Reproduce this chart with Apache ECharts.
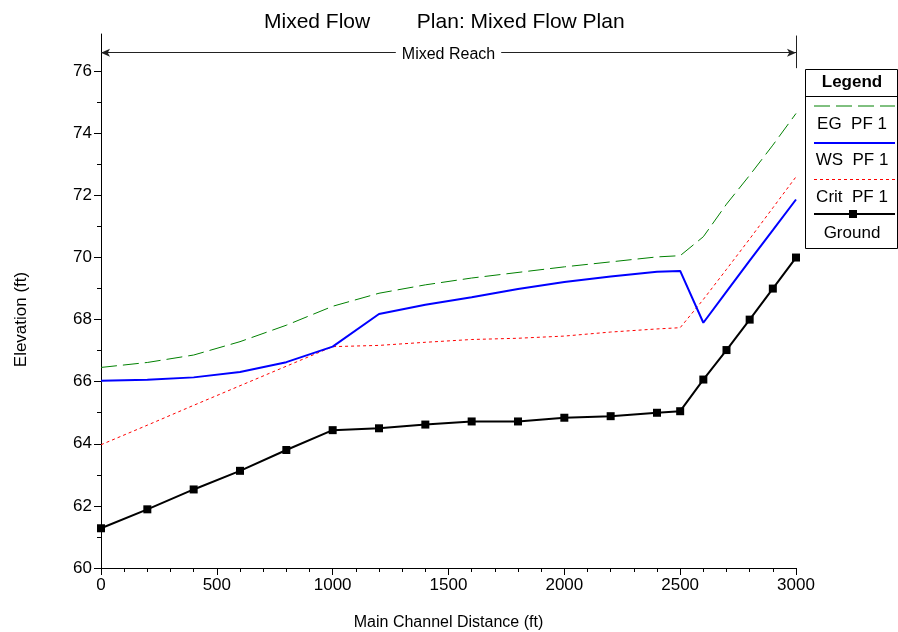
<!DOCTYPE html>
<html><head><meta charset="utf-8">
<script src="https://cdn.jsdelivr.net/npm/echarts@6/dist/echarts.min.js"></script>
<style>html,body{margin:0;padding:0;background:#fff}#c{width:898px;height:632px}</style>
</head><body><div id="c"></div>
<script>
// ---- data ----
const stations = [0, 200, 400, 600, 800, 1000, 1200, 1400, 1600, 1800, 2000, 2200, 2400, 2500, 2600, 2700, 2800, 2900, 3000];
const egPF1   = [66.46, 66.62, 66.86, 67.29, 67.82, 68.43, 68.85, 69.12, 69.34, 69.52, 69.70, 69.86, 70.02, 70.06, 70.67, 71.72, 72.65, 73.62, 74.64];
const wsPF1   = [66.03, 66.06, 66.14, 66.31, 66.63, 67.13, 68.18, 68.48, 68.72, 68.99, 69.21, 69.39, 69.54, 69.57, 67.90, 68.90, 69.90, 70.88, 71.87];
const critPF1 = [63.97, 64.60, 65.24, 65.87, 66.50, 67.13, 67.17, 67.27, 67.36, 67.40, 67.47, 67.60, 67.70, 67.74, 68.65, 69.62, 70.60, 71.60, 72.60];
const ground  = [61.28, 61.89, 62.53, 63.13, 63.80, 64.44, 64.50, 64.62, 64.72, 64.72, 64.84, 64.89, 65.00, 65.05, 66.07, 67.02, 68.00, 69.00, 70.00];
const seriesNames = ['EG  PF 1', 'WS  PF 1', 'Crit  PF 1', 'Ground'];
const titleText = 'Mixed Flow        Plan: Mixed Flow Plan';
const reachName = 'Mixed Reach';
const reachStart = 0, reachEnd = 3000, reachLevel = 76.6;
const xTitle = 'Main Channel Distance (ft)';
const yTitle = 'Elevation (ft)';

const FONT = '"Liberation Sans", Arial, sans-serif';
function pairs(ys) { return stations.map((x, i) => [x, ys[i]]); }

const chart = echarts.init(document.getElementById('c'), null, { renderer: 'canvas' });
const black = '#000';

const option = {
  animation: false,
  title: {
    text: titleText, left: 259, top: 7,
    textStyle: { fontFamily: FONT, fontSize: 21, fontWeight: 'normal', color: black }
  },
  grid: [
    { left: 101, right: 102, top: 34, bottom: 64, containLabel: false, outerBoundsMode: 'none' },
    { left: 101, right: 102, top: 71, bottom: 64, containLabel: false, outerBoundsMode: 'none' }
  ],
  xAxis: [
    {
      gridIndex: 0, type: 'value', min: 0, max: 3000, interval: 500,
      axisLine: { onZero: false, lineStyle: { color: black, width: 1 } },
      axisTick: { show: true, length: 7, lineStyle: { color: black } },
      minorTick: { show: true, splitNumber: 5, length: 4, lineStyle: { color: black } },
      axisLabel: { color: black, fontSize: 17, fontFamily: FONT, margin: 9, formatter: v => String(v) },
      splitLine: { show: false },
      name: xTitle, nameLocation: 'middle', nameGap: 47,
      nameTextStyle: { color: black, fontSize: 16, fontFamily: FONT }
    },
    { gridIndex: 1, type: 'value', min: 0, max: 3000, show: false }
  ],
  yAxis: [
    {
      gridIndex: 0, type: 'value', min: 60, max: 77.2,
      axisLine: { show: true, onZero: false, lineStyle: { color: black, width: 1 } },
      axisTick: { show: false }, axisLabel: { show: false }, splitLine: { show: false }
    },
    {
      gridIndex: 1, type: 'value', min: 60, max: 76, interval: 2,
      axisLine: { show: true, onZero: false, lineStyle: { color: black, width: 1 } },
      axisTick: { show: true, length: 7, lineStyle: { color: black } },
      minorTick: { show: true, splitNumber: 2, length: 4, lineStyle: { color: black } },
      axisLabel: { color: black, fontSize: 17, fontFamily: FONT, margin: 9, formatter: v => String(v) },
      splitLine: { show: false },
      name: yTitle, nameLocation: 'middle', nameGap: 71,
      nameTextStyle: { color: black, fontSize: 17, fontFamily: FONT }
    }
  ],
  series: [
    {
      name: seriesNames[2], type: 'line', xAxisIndex: 0, yAxisIndex: 0, data: pairs(critPF1),
      symbol: 'none', lineStyle: { color: '#ff0000', width: 1, type: [3, 3] }
    },
    {
      name: seriesNames[0], type: 'line', xAxisIndex: 0, yAxisIndex: 0, data: pairs(egPF1),
      symbol: 'none', lineStyle: { color: '#008000', width: 1, type: [16, 6] }
    },
    {
      name: seriesNames[1], type: 'line', xAxisIndex: 0, yAxisIndex: 0, data: pairs(wsPF1),
      symbol: 'none', lineStyle: { color: '#0000ff', width: 2 }
    },
    {
      name: seriesNames[3], type: 'line', xAxisIndex: 0, yAxisIndex: 0, data: pairs(ground),
      symbol: 'rect', symbolSize: 8, itemStyle: { color: black },
      lineStyle: { color: black, width: 2 },
      markLine: {
        silent: true, animation: false,
        symbol: ['arrow', 'arrow'], symbolSize: [6, 9],
        lineStyle: { color: '#222', width: 1, type: 'solid' },
        label: { show: false },
        data: [
          [
            { coord: [reachStart, reachLevel], label: { show: true, position: 'middle', formatter: reachName, color: black, fontSize: 16, fontFamily: FONT, backgroundColor: '#fff', padding: [2, 6], offset: [0, 17] } },
            { coord: [reachEnd, reachLevel] }
          ],
          [
            { coord: [reachEnd, 76.1], symbol: 'none' },
            { coord: [reachEnd, 77.15], symbol: 'none' }
          ]
        ]
      }
    }
  ],
  graphic: [
    { type: 'rect', shape: { x: 805.5, y: 69.5, width: 92, height: 179 }, style: { fill: '#fff', stroke: black, lineWidth: 1 } },
    { type: 'line', shape: { x1: 805, y1: 96.5, x2: 898, y2: 96.5 }, style: { stroke: black, lineWidth: 1 } },
    { type: 'text', x: 852, y: 82, style: { text: 'Legend', fontSize: 17, fontWeight: 'bold', fontFamily: FONT, fill: black, align: 'center', verticalAlign: 'middle' } },
    { type: 'line', shape: { x1: 814, y1: 106, x2: 895, y2: 106 }, style: { stroke: '#008000', lineWidth: 1, lineDash: [16, 6] } },
    { type: 'text', x: 852, y: 124, style: { text: seriesNames[0], fontSize: 17, fontFamily: FONT, fill: black, align: 'center', verticalAlign: 'middle' } },
    { type: 'line', shape: { x1: 814, y1: 143, x2: 895, y2: 143 }, style: { stroke: '#0000ff', lineWidth: 2 } },
    { type: 'text', x: 852, y: 160, style: { text: seriesNames[1], fontSize: 17, fontFamily: FONT, fill: black, align: 'center', verticalAlign: 'middle' } },
    { type: 'line', shape: { x1: 814, y1: 179.5, x2: 895, y2: 179.5 }, style: { stroke: '#ff0000', lineWidth: 1, lineDash: [3, 3] } },
    { type: 'text', x: 852, y: 197, style: { text: seriesNames[2], fontSize: 17, fontFamily: FONT, fill: black, align: 'center', verticalAlign: 'middle' } },
    { type: 'line', shape: { x1: 814, y1: 214, x2: 895, y2: 214 }, style: { stroke: black, lineWidth: 2 } },
    { type: 'rect', shape: { x: 849, y: 210, width: 8, height: 8 }, style: { fill: black } },
    { type: 'text', x: 852, y: 233, style: { text: seriesNames[3], fontSize: 17, fontFamily: FONT, fill: black, align: 'center', verticalAlign: 'middle' } }
  ]
};
chart.setOption(option);
</script>
</body></html>
